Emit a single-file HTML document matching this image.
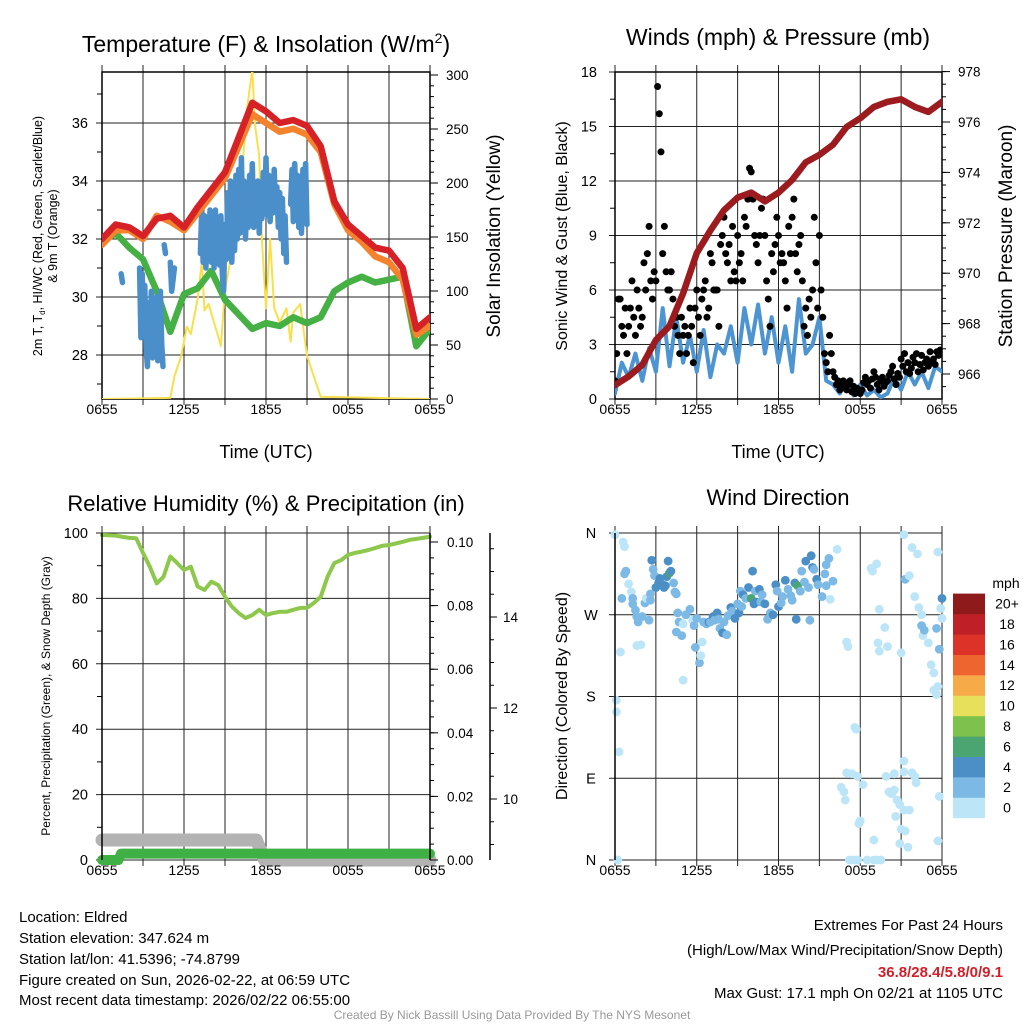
<!DOCTYPE html>
<html><head><meta charset="utf-8"><title>Eldred Meteogram</title>
<style>
html,body{margin:0;padding:0;background:#fff;}
svg{display:block;font-family:"Liberation Sans",Arial,sans-serif;}
</style></head>
<body>
<svg id="chart" width="1024" height="1024" viewBox="0 0 1024 1024" xmlns="http://www.w3.org/2000/svg">
<defs>
<clipPath id="c1"><rect x="102" y="72" width="328" height="327"/></clipPath>
<clipPath id="c2"><rect x="615" y="72" width="327" height="327"/></clipPath>
<clipPath id="c3"><rect x="90" y="525" width="355" height="345"/></clipPath>
<clipPath id="c4"><rect x="608" y="526" width="342" height="342"/></clipPath>
</defs>
<g id="grid"></g>
<g id="marks"></g>
<g id="axes"></g>

<text x="266" y="52" font-size="23" text-anchor="middle">Temperature (F) &amp; Insolation (W/m<tspan font-size="14" dy="-9">2</tspan><tspan dy="9">)</tspan></text>
<text x="778" y="45" font-size="23" text-anchor="middle">Winds (mph) &amp; Pressure (mb)</text>
<text x="266" y="511" font-size="22" text-anchor="middle">Relative Humidity (%) &amp; Precipitation (in)</text>
<text x="778" y="505" font-size="22" text-anchor="middle">Wind Direction</text>

<text x="266" y="458" font-size="18" text-anchor="middle">Time (UTC)</text>
<text x="778" y="458" font-size="18" text-anchor="middle">Time (UTC)</text>

<text transform="translate(42,236) rotate(-90)" font-size="12.5" text-anchor="middle"><tspan x="0" dy="0">2m T, T<tspan font-size="8" dy="3">d</tspan><tspan dy="-3">, HI/WC (Red, Green, Scarlet/Blue)</tspan></tspan><tspan x="0" dy="15">&amp; 9m T (Orange)</tspan></text>
<text transform="translate(500,236) rotate(-90)" font-size="19" text-anchor="middle">Solar Insolation (Yellow)</text>
<text transform="translate(567,236) rotate(-90)" font-size="16" text-anchor="middle">Sonic Wind &amp; Gust (Blue, Black)</text>
<text transform="translate(1012,236) rotate(-90)" font-size="19" text-anchor="middle">Station Pressure (Maroon)</text>
<text transform="translate(50,696) rotate(-90)" font-size="12" text-anchor="middle">Percent, Precipitation (Green), &amp; Snow Depth (Gray)</text>
<text transform="translate(567,696) rotate(-90)" font-size="16" text-anchor="middle">Direction (Colored By Speed)</text>

<g font-size="15">
<text x="19" y="922">Location: Eldred</text>
<text x="19" y="943">Station elevation: 347.624 m</text>
<text x="19" y="964">Station lat/lon: 41.5396; -74.8799</text>
<text x="19" y="985">Figure created on Sun, 2026-02-22, at 06:59 UTC</text>
<text x="19" y="1005">Most recent data timestamp: 2026/02/22 06:55:00</text>
</g>
<g font-size="15" text-anchor="end">
<text x="1003" y="930">Extremes For Past 24 Hours</text>
<text x="1003" y="955">(High/Low/Max Wind/Precipitation/Snow Depth)</text>
<text x="1003" y="977" fill="#d0202a" font-weight="bold">36.8/28.4/5.8/0/9.1</text>
<text x="1003" y="998">Max Gust: 17.1 mph On 02/21 at 1105 UTC</text>
</g>
<text x="512" y="1019" font-size="12" fill="#999" text-anchor="middle">Created By Nick Bassill Using Data Provided By The NYS Mesonet</text>
</svg>
<script>
// ---------- data ----------
const hours = [0,1,2,3,4,5,6,7,8,9,10,11,12,13,14,15,16,17,18,19,20,21,22,23,24];
const tempRed = [32.0,32.5,32.4,32.1,32.7,32.8,32.4,33.1,33.7,34.3,35.5,36.7,36.4,36.0,36.1,35.9,35.2,33.3,32.5,32.1,31.7,31.6,31.0,28.9,29.3];
const temp9m  = [31.8,32.3,32.3,32.0,32.8,32.6,32.3,32.9,33.5,34.1,35.2,36.3,36.0,35.7,35.8,35.6,35.0,33.2,32.3,31.9,31.4,31.2,30.6,28.7,29.0];
const dewGreen = [31.9,32.2,31.7,31.3,30.2,28.8,30.1,30.3,30.9,29.9,29.4,28.9,29.1,29.0,29.3,29.1,29.3,30.2,30.5,30.7,30.5,30.6,30.7,28.3,28.9];
const wcA = [30.8,30.5];
const wcB = [31.0,28.6,30.8,28.9,30.4,28.2,27.6,29.8,28.0,30.2,27.9,29.5,28.6,30.0,27.8,29.0,30.2,28.4,27.6];
const wcC = [31.8,31.5];
const wcD = [31.2,30.2,30.6,31.0];
const wcE = [31.5,33.1,31.2,32.8,31.0,32.6,31.4,33.0,31.2,32.9,31.0,33.0,31.5,32.6,31.1,32.8,30.8,30.2,32.5,31.3,33.6,31.5,34.0,31.2,33.2,31.6,34.2,32.0,34.4,32.2,34.8,32.5,34.0,32.0,33.5,32.4,34.2,32.6,34.6,32.4,33.8,32.8,34.0,32.2,33.6,32.7,34.3,33.0,34.8,32.8,34.2,32.6,33.7,32.9,34.4,33.0,33.8,32.4,33.6,32.0,33.4,31.5,32.8,31.2];
const wcF = [33.2,34.4,32.6,34.6,33.0,34.2,32.4,33.8,32.2,34.4,33.0,34.6,32.5];
const wcStarts = [1.4,2.75,4.55,5.0,7.2,13.8];
const solarT = [0,5,5.3,5.8,6.2,6.5,7,7.3,7.5,7.8,8.5,8.7,9,9.5,10,10.3,10.6,11,11.2,11.5,11.7,12,12.3,12.6,13,13.5,13.8,14,14.5,15,15.5,16,24];
const solarV = [0,1,21,40,67,60,93,127,82,88,58,49,101,135,157,219,268,305,253,225,148,84,148,84,71,84,53,80,88,40,21,2,0];
const pressure = [965.56,965.9,966.36,967.35,967.9,969.2,970.8,971.7,972.5,973.0,973.2,972.85,973.2,973.7,974.4,974.7,975.1,975.8,976.15,976.6,976.8,976.9,976.6,976.4,976.8];
const windSpd = [0.3,2.0,1.2,2.5,1.0,2.8,1.5,5.0,1.8,4.5,2.0,3.5,1.5,3.8,1.2,3.0,2.5,4.0,2.0,5.0,3.0,5.2,2.5,4.5,2.0,4.0,1.5,5.5,2.5,3.0,4.5,1.0,0.8,0.3,1.0,0.2,0.8,0.2,0.5,0.1,0.3,1.2,0.5,1.5,0.8,1.5,0.6,1.8,1.5];
const gusts = [1,2.5,5.5,5.5,4,3.5,5,2.5, 4,5,6.5,4.5,3.5,6,5,4, 4.5,7.5,6,8,9.5,6.5,5.5,7, 6.5,17.2,15.7,13.6,8,9.5,7,6, 6,7,5.5,4,4.5,3.5,2.5,4.5, 3.5,4,2.5,3.5,5,4,2,5, 6,4.5,3.5,5.5,6,6.5,4.5,5, 8,7.5,6,6,6,4,8.5,9, 10,8,7.5,8.5,6.5,9.5,7,6.5, 9,7.5,8,6.5,10,9.5,11,12.7, 12.5,11,9,8.5,7.5,9,10.5,11, 9,6.5,5.5,4,8,7,8.5,10, 9,7.5,8,7.5,6.5,5,9.5,8, 10,11,8,7,8.5,9,6.5,4, 5,3.5,5.5,4.5,6,10,7.5,5, 9,6,4.5,2.5,2,1.5,3.5,2.5, 1.5,1.2,0.8,1.0,0.5,0.8,1.0,0.6, 0.5,0.8,1.0,0.4,0.7,0.3,0.6,0.5, 0.3,0.5,0.9,1.2,0.8,1.0,0.6,1.1, 1.5,1.2,0.8,0.5,1.0,1.2,0.7,0.9, 1.0,1.3,1.5,1.8,1.1,0.8,1.4,1.2, 2.2,1.8,2.5,1.5,2.0,1.4,1.7,2.3, 2.0,2.5,1.5,1.9,2.4,1.6,2.0,2.2, 1.8,2.6,2.0,2.2,1.9,2.6,2.4,2.7];
const rhV = [99.4,99.3,99.2,98.8,98.5,98.4,93.9,89.7,84.6,86.6,92.8,90.8,88.7,89.7,83.6,82.6,85.1,84.1,80.5,77.5,75.5,74.0,74.9,76.5,74.9,75.5,75.9,75.9,76.5,77.1,77.1,78.6,80.5,86.6,90.8,91.7,93.3,93.9,94.3,94.8,95.4,96.1,96.3,96.8,97.3,97.9,98.2,98.5,98.9];
const precipT = [0,1.2,1.4,24];
const precipV = [0,0,0.002,0.002];
const snowT = [0,11.3,11.9,24];
const snowV = [9.1,9.1,8.66,8.66];
const dirH = [0,0.2,0.1,0.1,0.3,0.4,0.6,0.7,0.7,0.8,1.0,0.5,1.2,1.3,1.3,1.5,1.6,1.7,1.6,1.9,2.0,2.2,2.3,2.5,2.6,2.7,2.8,2.9,3.0,2.6,3.2,3.3,3.5,3.6,3.7,3.8,4.0,4.1,3.9,4.3,4.4,4.5,4.6,4.7,4.5,4.9,5.0,5.2,5.5,5.7,5.8,5.9,6.0,6.2,6.3,6.4,5.0,6.5,6.7,6.9,7.0,7.2,7.3,7.5,7.6,7.7,7.9,8.0,8.2,8.3,8.5,8.6,8.8,9.0,9.1,9.3,9.2,9.4,9.6,9.8,10.0,10.1,10.2,10.3,10.4,10.6,10.7,10.8,11.0,11.2,11.4,11.6,11.8,11.9,12.0,12.2,12.3,12.5,12.7,12.9,13.0,13.2,13.4,13.3,13.6,13.7,13.9,14.0,14.2,14.3,14.5,14.6,14.4,14.8,14.9,15.2,15.5,15.5,15.7,16.3,16.0,15.8,15.4,17.0,17.1,17.0,16.6,16.8,16.9,17.4,17.8,18.2,17.6,17.7,18.0,17.9,17.2,17.4,17.6,17.8,18.5,19.0,19.2,19.5,19.0,18.8,18.9,19.2,19.4,19.3,19.4,19.8,20.0,20.5,19.9,20.5,20.3,20.7,20.6,20.1,20.9,21.2,21.0,20.9,21.5,21.3,21.6,21.8,22.0,22.1,21.2,21.2,21.0,21.3,21.6,21.8,22.2,21.2,22.3,22.5,22.6,22.7,22.5,23.0,23.2,23.4,23.6,23.7,23.4,23.8,23.7,22.0,23.7,23.9,24.0,24.0,23.8,23.6];
const dirV = [358,0,176,163,119,229,350,345,315,318,304,288,295,288,282,275,268,262,236,237,268,283,288,264,286,330,320,313,300,293,305,310,303,300,302,312,316,318,329,305,295,293,272,262,251,247,260,270,276,264,258,234,266,217,225,240,198,262,260,262,262,268,264,272,265,255,250,262,248,269,278,274,266,282,272,279,296,292,288,300,288,318,282,296,284,298,284,292,282,265,272,270,303,296,279,283,290,308,298,291,286,305,302,265,296,318,306,329,300,264,322,320,335,309,303,290,302,325,332,342,307,287,315,240,235,96,80,75,66,95,92,83,146,144,43,40,0,0,0,0,0,0,0,0,22,321,318,326,276,239,230,256,235,95,92,77,73,66,48,75,61,55,34,18,14,32,55,96,92,85,109,97,228,309,313,344,337,358,278,270,247,253,258,239,215,206,182,191,187,70,21,290,339,277,266,288,232,255];
const dirS = [1,1,1,1,1,1,1,1,2,2,1,2,1,2,2,2,2,2,1,1,2,2,1,2,2,4,2,3,4,3,4,4,5,4,4,5,7,5,4,3,3,2,2,2,3,2,1,2,2,1,3,3,2,3,1,1,1,3,2,4,2,4,2,4,3,2,4,2,3,3,4,3,4,2,4,3,3,4,3,4,7,4,4,3,4,4,3,2,4,3,3,4,4,3,4,2,2,4,3,2,3,4,6,4,3,3,2,4,3,3,4,2,4,4,3,2,2,2,2,1,2,1,3,1,1,1,1,1,1,1,1,1,1,1,1,1,1,1,1,1,1,1,1,1,1,1,1,1,1,1,1,1,1,1,1,1,1,1,1,1,1,1,1,1,1,1,1,1,1,1,1,1,1,3,1,1,1,1,1,1,1,2,2,1,1,1,1,1,1,1,1,1,1,1,1,4,2,3,1,2];
const speedLabels = ['0','2','4','6','8','10','12','14','16','18','20+'];
const speedColors = ['#bde5f8','#7cb9e4','#4b8fc6','#4aa570','#7dc24d','#e6e05a','#f6aa48','#ef6530','#dc3228','#bf1f26','#8e1a1b'];

// ---------- scales ----------
const x1 = h => 102 + h * 328 / 24;
const x2 = h => 615 + h * 327 / 24;
const yT = t => 355 - (t - 28) * 29;
const yS = w => 399 - w * 1.08;
const yW = v => 399 - v * 18.17;
const yP = p => 374 - (p - 966) * 25.2;
const yRH = r => 860 - r * 3.27;
const yPr = p => 860 - p * 3180;
const ySn = s => 799 - (s - 10) * 45.5;
const yD = d => 860 - d * 327 / 360;

const NS = 'http://www.w3.org/2000/svg';
function mk(tag, attrs, parent) {
  const e = document.createElementNS(NS, tag);
  for (const k in attrs) e.setAttribute(k, attrs[k]);
  parent.appendChild(e);
  return e;
}
const grid = document.getElementById('grid');
const marks = document.getElementById('marks');
const axes = document.getElementById('axes');
function pathFrom(xs, ys) { return xs.map((x, i) => (i ? 'L' : 'M') + x.toFixed(1) + ',' + ys[i].toFixed(1)).join(''); }

// ---------- grids & frames ----------
function panelGrid(x0, x1p, y0, y1p, hy, top) {
  for (let i = 0; i <= 8; i++) {
    const x = x0 + (x1p - x0) * i / 8;
    const l = mk('line', {x1: x, x2: x, y1: y0 - 7, y2: y1p + 6, stroke: '#222', 'stroke-width': 1}, grid);
    
    
  }
  hy.forEach(y => {
    const l = mk('line', {x1: x0 - 6, x2: x1p, y1: y, y2: y, stroke: '#222', 'stroke-width': 1}, grid);
    
    
  });
  if (top) {
    const f = mk('rect', {x: x0, y: y0, width: x1p - x0, height: y1p - y0, fill: 'none', stroke: '#000', 'stroke-width': 1.5}, grid);
    
    
  }
}
panelGrid(102, 430, 72, 399, [28, 30, 32, 34, 36].map(yT), true);
panelGrid(615, 942, 72, 399, [0, 3, 6, 9, 12, 15, 18].map(yW), true);
panelGrid(102, 430, 533, 860, [0, 20, 40, 60, 80, 100].map(yRH), false);
panelGrid(615, 942, 533, 860, [0, 90, 180, 270, 360].map(yD), false);

function tickText(x, y, s, anchor, size, name) {
  const t = mk('text', {x: x, y: y, 'font-size': size || 14, 'text-anchor': anchor}, axes);
  t.textContent = s;
  
  
}
function vline(x, ya, yb, w) {
  const l = mk('line', {x1: x, x2: x, y1: ya, y2: yb, stroke: '#000', 'stroke-width': w || 1.5}, axes);
  
  
}
function tick(xa, xb, y) {
  const l = mk('line', {x1: xa, x2: xb, y1: y, y2: y, stroke: '#000', 'stroke-width': 1}, axes);
  
  
}
const xLabels = ['0655', '1255', '1855', '0055', '0655'];
xLabels.forEach((s, i) => {
  tickText(x1(i * 6), 414, s, 'middle', 14, 'x-tick-label');
  tickText(x2(i * 6), 414, s, 'middle', 14, 'x-tick-label');
  tickText(x1(i * 6), 875, s, 'middle', 14, 'x-tick-label');
  tickText(x2(i * 6), 875, s, 'middle', 14, 'x-tick-label');
});
// panel 1 axes
[28, 30, 32, 34, 36].forEach(v => tickText(88, yT(v) + 5, String(v), 'end', 14.5, 'temp-tick-label'));
[27, 29, 31, 33, 35, 37].forEach(v => tick(97, 102, yT(v)));
[0, 50, 100, 150, 200, 250, 300].forEach(v => { tickText(446, yS(v) + 5, String(v), 'start', 13.5, 'solar-tick-label'); tick(430, 438, yS(v)); });
for (let v = 10; v <= 300; v += 10) tick(430, 434, yS(v));
// panel 2 axes
[0, 3, 6, 9, 12, 15, 18].forEach(v => tickText(597, yW(v) + 5, String(v), 'end', 14.5, 'wind-tick-label'));
[1.5, 4.5, 7.5, 10.5, 13.5, 16.5].forEach(v => tick(610, 615, yW(v)));
[966, 968, 970, 972, 974, 976, 978].forEach(v => { tickText(958, yP(v) + 5, String(v), 'start', 13.5, 'pressure-tick-label'); tick(942, 950, yP(v)); });
for (let v = 965.5; v <= 978; v += 0.5) tick(942, 946, yP(v));
// panel 3 axes
vline(102, 533, 860); vline(430, 533, 860);
[0, 20, 40, 60, 80, 100].forEach(v => tickText(88, yRH(v) + 5, String(v), 'end', 14.5, 'humidity-tick-label'));
[10, 30, 50, 70, 90].forEach(v => tick(97, 102, yRH(v)));
[0, 0.02, 0.04, 0.06, 0.08, 0.10].forEach(v => { tickText(447, yPr(v) + 5, v.toFixed(2), 'start', 13.5, 'precip-tick-label'); tick(430, 438, yPr(v)); });
for (let v = 0.005; v < 0.1; v += 0.005) tick(430, 434, yPr(v));
vline(490, 533, 860);
[10, 12, 14].forEach(v => { tickText(503, ySn(v) + 5, String(v), 'start', 13.5, 'snow-tick-label'); tick(490, 497, ySn(v)); });
[8.5, 9, 9.5, 10.5, 11, 11.5, 12.5, 13, 13.5, 14.5, 15, 15.5].forEach(v => { const y = ySn(v); if (y > 535 && y < 858) tick(490, 494, y); });
// panel 4 axes
vline(615, 533, 860);
[['N', 0], ['E', 90], ['S', 180], ['W', 270], ['N', 360]].forEach(d => tickText(591, yD(d[1]) + 5, d[0], 'middle', 14.5, 'direction-tick-label'));

// ---------- panel 1 series ----------
const g1 = mk('g', {'clip-path': 'url(#c1)'}, marks);


function line(g, xs, ys, color, w, name) {
  const p = mk('path', {d: pathFrom(xs, ys), fill: 'none', stroke: color, 'stroke-width': w, 'stroke-linejoin': 'round', 'stroke-linecap': 'round'}, g);
  
  
  return p;
}
line(g1, solarT.map(x1), solarV.map(yS), '#f7e04b', 2, 'solar-insolation-line');
line(g1, hours.map(x1), dewGreen.map(yT), '#45b044', 6.5, 'dewpoint-line');
[wcA, wcB, wcC, wcD, wcE, wcF].forEach((seg, k) => {
  const step = (k === 1) ? 0.095 : 0.1;
  const ts = seg.map((v, i) => wcStarts[k] + i * step);
  line(g1, ts.map(x1), seg.map(yT), '#4a8fca', 5.5, 'wind-chill-line');
});
line(g1, hours.map(x1), temp9m.map(yT), '#f5822c', 6.5, 'temp-9m-line');
line(g1, hours.map(x1), tempRed.map(yT), '#d62227', 6.5, 'temp-2m-line');

// ---------- panel 2 series ----------
const g2 = mk('g', {'clip-path': 'url(#c2)'}, marks);


line(g2, windSpd.map((v, i) => x2(i * 0.5)), windSpd.map(yW), '#4d94d2', 4, 'sonic-wind-line');
gusts.forEach((v, i) => {
  const c = mk('circle', {cx: x2(i * 0.125), cy: yW(v), r: 3.5, fill: '#000'}, g2);
  
  
});
line(g2, hours.map(x2), pressure.map(yP), '#9b1b1e', 6.5, 'pressure-line');

// ---------- panel 3 series ----------
const g3 = mk('g', {'clip-path': 'url(#c3)'}, marks);


line(g3, snowT.map(x1), snowV.map(ySn), '#b3b3b3', 13, 'snow-depth-line');
line(g3, precipT.map(x1), precipV.map(yPr), '#3fb043', 10, 'precipitation-line');
line(g3, rhV.map((v, i) => x1(i * 0.5)), rhV.map(yRH), '#8dc84c', 4, 'relative-humidity-line');

// ---------- panel 4 series ----------
const g4 = mk('g', {'clip-path': 'url(#c4)'}, marks);


dirH.forEach((h, i) => {
  const bin = Math.min(10, Math.floor(dirS[i] / 2));
  const c = mk('circle', {cx: x2(h), cy: yD(dirV[i]), r: 4.4, fill: speedColors[bin]}, g4);
  
  
});

// ---------- speed colorbar ----------
const cb = mk('g', {}, axes);


tickText(1006, 588, 'mph', 'middle', 14, 'colorbar-title');
speedLabels.forEach((s, i) => {
  const top = 818 - (i + 1) * 20.4;
  const r = mk('rect', {x: 953, y: top, width: 32, height: 20.6, fill: speedColors[i]}, cb);
  
  
  tickText(1007, top + 15, s, 'middle', 14, 'colorbar-label');
});
</script>
</body></html>
